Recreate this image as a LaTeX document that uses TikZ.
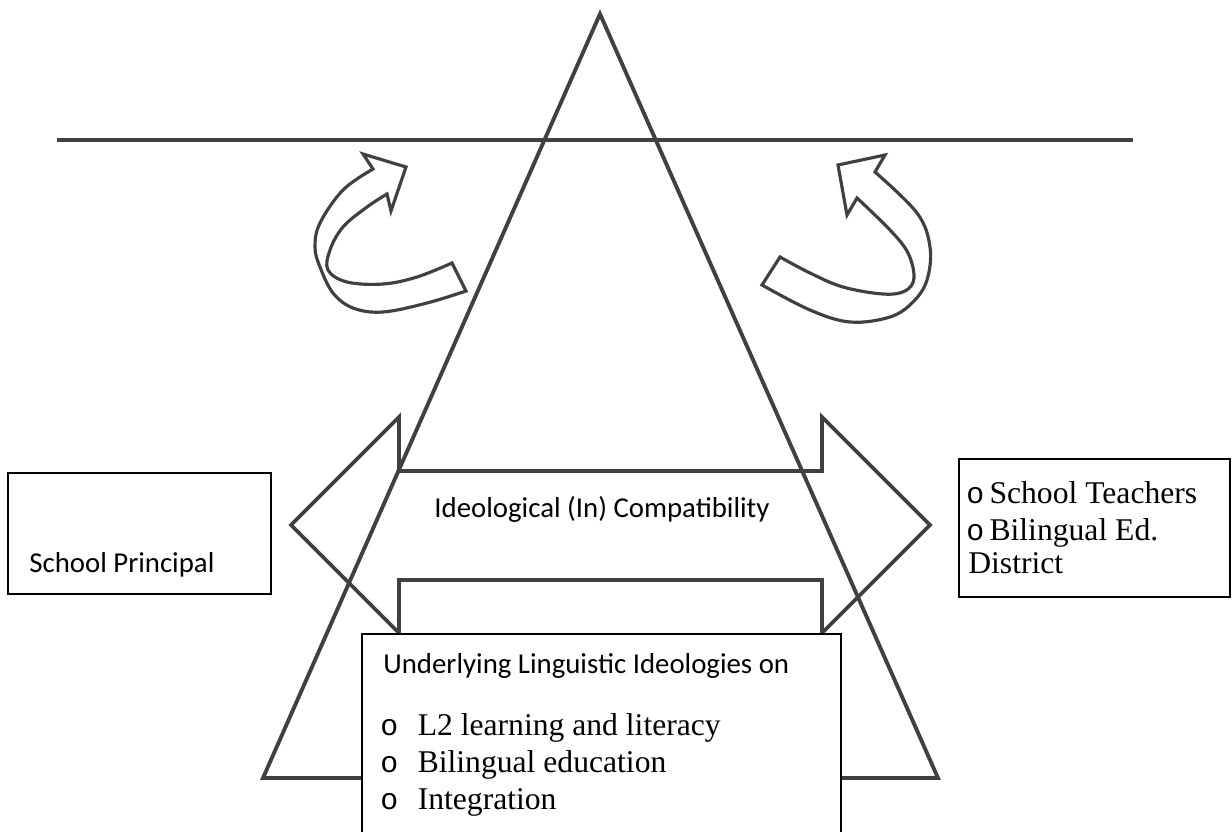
\documentclass[tikz,border=0pt]{standalone}
\usepackage{fontspec}
\setmainfont{Liberation Serif}
\setmonofont{Liberation Mono}
\newfontfamily\calibfont{Carlito}
\definecolor{linegray}{HTML}{404040}
\tikzset{>=stealth,
  heavy/.style={draw=linegray, line width=2.2pt, line join=miter},
  curvy/.style={draw=linegray, line width=1.8pt, line join=miter},
  framebox/.style={draw=black, line width=0.8pt},
  sanslabel/.style={font=\calibfont\fontsize{16.4}{20}\selectfont, inner sep=0pt},
  seriflabel/.style={font=\fontsize{18}{22}\selectfont, inner sep=0pt}}
\newcommand{\circbul}{{\ttfamily\fontsize{17}{20}\selectfont o}}

\begin{document}
\begin{tikzpicture}[x=0.02cm, y=-0.02cm]
\useasboundingbox (0,0) rectangle (1232,832);
% level line and triangle
\draw[heavy] (57,140) -- (1133,140);
\draw[heavy] (600,14) -- (938,778) -- (263,778) -- cycle;
% curved arrows
\draw[curvy] plot[smooth, tension=0.6] coordinates {(452,263) (417,277) (383,284) (347,282) (328,270) (330,250) (343,227) (367,207) (387,194)}
  -- (391,211) -- (406,167) -- (363,154) -- (373,169)
  -- plot[smooth, tension=0.6] coordinates {(373,169) (343,190) (320,223) (315,247) (320,267) (333,293) (353,308) (383,312) (427,303) (466,291)}
  -- cycle;
\draw[curvy] plot[smooth, tension=0.6] coordinates {(780,257) (810,273) (843,287) (883,294) (905,291) (914,278) (908,253) (890,230) (857,198)}
  -- (847,215) -- (838,165) -- (885,155) -- (875,172)
  -- plot[smooth, tension=0.6] coordinates {(875,172) (917,213) (930,247) (927,280) (913,302) (890,317) (850,322) (810,310) (762,285)}
  -- cycle;
% double arrow
\draw[heavy] (291,525) -- (399,417) -- (399,471) -- (822,471) -- (822,417) -- (930,525)
  -- (822,633) -- (822,580) -- (399,580) -- (399,633) -- cycle;
\node[sanslabel, anchor=base] (compat) at (602,517) {Ideological (In) Compatibility};
% left box
\coordinate (prinnw) at (8,473);
\coordinate (prinse) at (271,594);
\draw[framebox] (prinnw) rectangle (prinse);
\node[sanslabel, anchor=base west] (principal) at (29,572) {School Principal};
% right box
\coordinate (teachnw) at (959,459);
\coordinate (teachse) at (1230,597);
\draw[framebox] (teachnw) rectangle (teachse);
\node[seriflabel, anchor=base west] (teachers) at (966,503) {\circbul\hspace{3pt}School Teachers};
\node[seriflabel, anchor=base west] (district) at (966,540) {\circbul\hspace{3pt}Bilingual Ed.};
\node[seriflabel, anchor=base west] (districtb) at (968,573) {District};
% bottom box
\coordinate (ideonw) at (362,634);
\coordinate (ideose) at (841,832);
\fill[white] (ideonw) rectangle (ideose);
\draw[framebox] (ideonw |- ideose) -- (ideonw) -- (ideonw -| ideose) -- (ideose);
\node[sanslabel, anchor=base west] (ideohead) at (383,673) {Underlying Linguistic Ideologies on};
\foreach \t [count=\i] in {L2 learning and literacy, Bilingual education, Integration}
  \node[seriflabel, anchor=base west] (item\i) at (380,698+37*\i) {\makebox[21.3pt][l]{\circbul}\t};
\end{tikzpicture}
\end{document}
